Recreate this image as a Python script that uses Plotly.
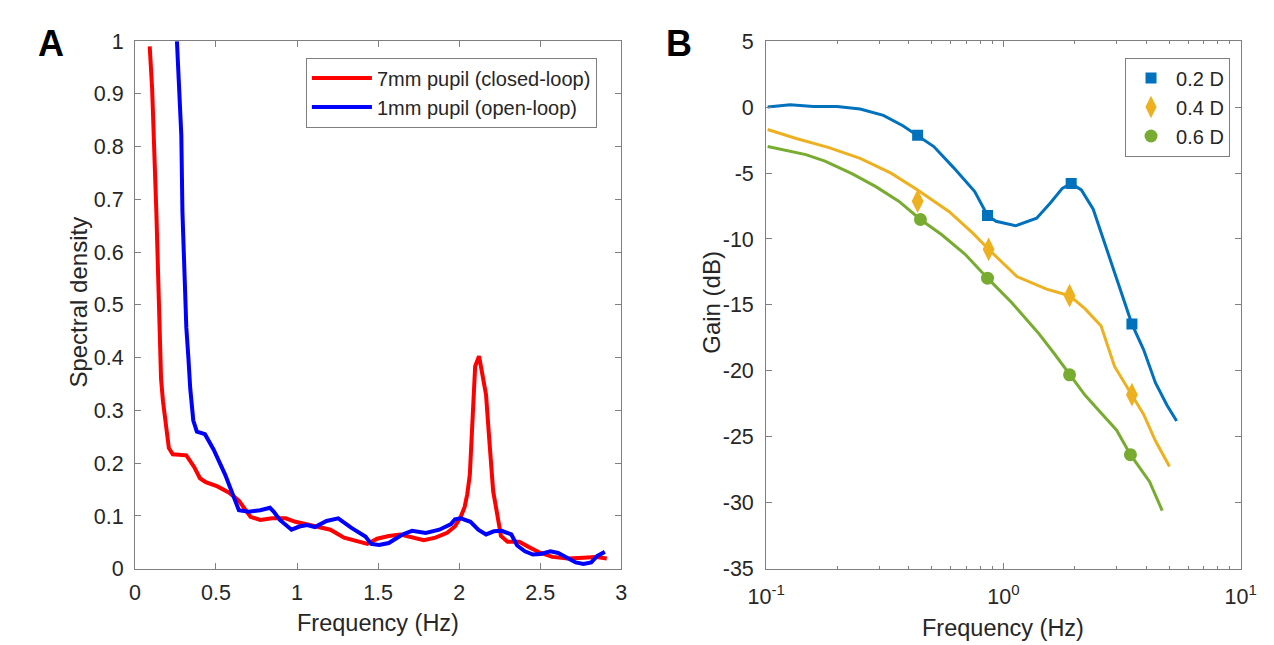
import plotly.graph_objects as go

# ---------------- Panel A data ----------------
red_freq = [0.091, 0.106, 0.132, 0.156, 0.161, 0.173, 0.209, 0.233, 0.317, 0.365, 0.401, 0.437,
            0.509, 0.581, 0.641, 0.713, 0.773, 0.846, 0.93, 0.99, 1.062, 1.134, 1.206, 1.29,
            1.362, 1.434, 1.494, 1.566, 1.638, 1.71, 1.782, 1.854, 1.926, 1.974, 2.01, 2.034,
            2.05, 2.066, 2.082, 2.099, 2.123, 2.142, 2.166, 2.186, 2.21, 2.234, 2.258, 2.299,
            2.371, 2.431, 2.503, 2.575, 2.671, 2.767, 2.839, 2.911]
red_val = [0.99, 0.91, 0.676, 0.457, 0.36, 0.3175, 0.229, 0.217, 0.215, 0.193, 0.1715, 0.164,
           0.156, 0.144, 0.129, 0.0985, 0.0925, 0.0955, 0.0955, 0.089, 0.0846, 0.080, 0.074, 0.059,
           0.053, 0.047, 0.057, 0.062, 0.065, 0.059, 0.054, 0.059, 0.068, 0.080, 0.0985, 0.117,
           0.141, 0.178, 0.263, 0.384, 0.403, 0.372, 0.33, 0.245, 0.147, 0.105, 0.062, 0.051,
           0.051, 0.041, 0.030, 0.0225, 0.0195, 0.021, 0.0225, 0.0195]

blue_freq = [0.259, 0.286, 0.293, 0.305, 0.317, 0.329, 0.341, 0.36, 0.382, 0.432, 0.485, 0.557,
             0.605, 0.641, 0.701, 0.773, 0.833, 0.857, 0.894, 0.966, 1.014, 1.062, 1.11, 1.182,
             1.254, 1.338, 1.422, 1.458, 1.506, 1.566, 1.65, 1.71, 1.794, 1.878, 1.95, 1.974,
             2.01, 2.07, 2.118, 2.166, 2.214, 2.262, 2.322, 2.358, 2.406, 2.455, 2.503, 2.563,
             2.611, 2.671, 2.719, 2.767, 2.815, 2.851, 2.899]
blue_val = [1.0, 0.822, 0.676, 0.555, 0.457, 0.403, 0.342, 0.281, 0.26, 0.255, 0.226, 0.178,
            0.138, 0.111, 0.108, 0.111, 0.1155, 0.108, 0.0925, 0.074, 0.080, 0.083, 0.079, 0.0906,
            0.0955, 0.077, 0.061, 0.047, 0.045, 0.0487, 0.065, 0.072, 0.068, 0.074, 0.0846, 0.0937,
            0.0955, 0.089, 0.074, 0.065, 0.071, 0.072, 0.065, 0.044, 0.033, 0.027, 0.028, 0.033,
            0.030, 0.0195, 0.012, 0.009, 0.012, 0.024, 0.032]

legend_a = ["7mm pupil (closed-loop)", "1mm pupil (open-loop)"]

# ---------------- Panel B data ----------------
d02_line_f = [0.1015, 0.1263, 0.158, 0.199, 0.249, 0.312, 0.377, 0.435, 0.509, 0.615, 0.757, 0.857,
              0.931, 1.125, 1.38, 1.58, 1.77, 1.93, 2.13, 2.39, 2.68, 2.99, 3.48, 3.90, 4.37, 4.89, 5.37]
d02_line_db = [0, 0.17, 0.05, 0.05, -0.15, -0.63, -1.41, -2.14, -2.99, -4.57, -6.4, -8.22,
               -8.66, -9.0, -8.42, -7.25, -6.16, -5.79, -6.28, -7.74, -10.4, -12.85, -16.45, -18.4,
               -20.9, -22.6, -23.8]
d04_line_f = [0.1015, 0.134, 0.184, 0.249, 0.336, 0.435, 0.591, 0.743, 0.866, 1.14, 1.52, 1.90,
              2.21, 2.58, 2.94, 3.48, 3.90, 4.37, 5.01]
d04_line_db = [-1.70, -2.38, -3.07, -3.89, -5.01, -6.28, -7.93, -9.56, -10.78, -12.85, -13.8, -14.3,
               -15.3, -16.6, -19.66, -21.8, -23.3, -25.3, -27.25]
d06_line_f = [0.1015, 0.12, 0.147, 0.177, 0.231, 0.29, 0.362, 0.447, 0.550, 0.688, 0.857, 1.08,
              1.40, 1.64, 1.90, 2.21, 2.58, 3.0, 3.43, 4.13, 4.67]
d06_line_db = [-2.99, -3.24, -3.6, -4.09, -5.06, -6.03, -7.13, -8.52, -9.68, -11.14, -12.97, -14.8,
               -17.1, -18.7, -20.3, -21.85, -23.2, -24.5, -26.35, -28.4, -30.6]

d02_mark_f = [0.435, 0.857, 1.93, 3.48]
d02_mark_db = [-2.14, -8.22, -5.79, -16.45]
d04_mark_f = [0.435, 0.866, 1.90, 3.48]
d04_mark_db = [-7.13, -10.78, -14.3, -21.8]
d06_mark_f = [0.447, 0.857, 1.90, 3.43]
d06_mark_db = [-8.52, -12.97, -20.3, -26.35]

legend_b = ["0.2 D", "0.4 D", "0.6 D"]

b_yticks = [5, 0, -5, -10, -15, -20, -25, -30, -35]
b_xticks = [0.1, 1, 10]
b_xticktext = ["10<sup>-1</sup>", "10<sup>0</sup>", "10<sup>1</sup>"]
b_minor = [0.2, 0.3, 0.4, 0.5, 0.6, 0.7, 0.8, 0.9, 2, 3, 4, 5, 6, 7, 8, 9]

# ---------------- figure ----------------
W, H = 1274, 645
FONT = "Liberation Sans, Arial, sans-serif"
TXT = "#262626"
AX = "#7f7f7f"
C02, C04, C06 = "#0072BD", "#EDB120", "#77AC30"

fig = go.Figure()

fig.add_trace(go.Scatter(x=red_freq, y=red_val, mode="lines", name=legend_a[0],
                         line=dict(color="#FF0000", width=4), xaxis="x", yaxis="y", legend="legend"))
fig.add_trace(go.Scatter(x=blue_freq, y=blue_val, mode="lines", name=legend_a[1],
                         line=dict(color="#0000FF", width=4), xaxis="x", yaxis="y", legend="legend"))

for f, d, c in [(d02_line_f, d02_line_db, C02), (d04_line_f, d04_line_db, C04), (d06_line_f, d06_line_db, C06)]:
    fig.add_trace(go.Scatter(x=f, y=d, mode="lines", line=dict(color=c, width=3),
                             showlegend=False, xaxis="x2", yaxis="y2", hoverinfo="skip"))

for f, d, c, sym, sz, nm in [(d02_mark_f, d02_mark_db, C02, "square", 11, legend_b[0]),
                             (d04_mark_f, d04_mark_db, C04, "diamond-tall", 17, legend_b[1]),
                             (d06_mark_f, d06_mark_db, C06, "circle", 13, legend_b[2])]:
    fig.add_trace(go.Scatter(x=f, y=d, mode="markers", name=nm,
                             marker=dict(color=c, symbol=sym, size=sz, line=dict(width=0)),
                             xaxis="x2", yaxis="y2", legend="legend2"))

def px_x(p):
    return p / W

def px_y(p):
    return 1 - p / H

yd = [px_y(571), px_y(23)]
common = dict(showline=True, linecolor=AX, linewidth=1, mirror="ticks", ticks="inside",
              ticklen=6, tickcolor=AX, showgrid=False, zeroline=False,
              tickfont=dict(family=FONT, size=21.5, color=TXT))

fig.update_layout(
    width=W, height=H, margin=dict(l=0, r=0, t=0, b=0),
    paper_bgcolor="white", plot_bgcolor="white",
    font=dict(family=FONT, color=TXT),
    xaxis=dict(domain=[px_x(111), px_x(611)], range=[0, 3], dtick=0.5, anchor="y",
               ticklabelstandoff=4, **common),
    yaxis=dict(domain=yd, range=[0, 1], dtick=0.1, anchor="x", ticklabelstandoff=6, **common),
    xaxis2=dict(domain=[px_x(760), px_x(1248)], type="log", range=[-1, 1], anchor="y2",
                tickmode="array", tickvals=b_xticks, ticktext=b_xticktext, ticklabelstandoff=8,
                minor=dict(tickmode="array", tickvals=b_minor, ticks="inside", ticklen=3,
                           tickcolor=AX, showgrid=False),
                **common),
    yaxis2=dict(domain=yd, range=[-35, 5], anchor="x2", tickmode="array", ticklabelstandoff=7,
                tickvals=b_yticks, ticktext=[str(v) for v in b_yticks], **common),
    legend=dict(x=px_x(586), xanchor="right", y=px_y(40), yanchor="top",
                bordercolor=AX, borderwidth=1, bgcolor="white", itemwidth=60,
                font=dict(family=FONT, size=20, color=TXT), tracegroupgap=0),
    legend2=dict(x=px_x(1237), xanchor="right", y=px_y(40), yanchor="top",
                 bordercolor=AX, borderwidth=1, bgcolor="white", itemwidth=40,
                 font=dict(family=FONT, size=20, color=TXT)),
    showlegend=True,
)

annots = [
    dict(text="<b>A</b>", x=px_x(25), y=px_y(25), font=dict(size=36, color="black")),
    dict(text="<b>B</b>", x=px_x(670), y=px_y(25), font=dict(size=36, color="black")),
    dict(text="Frequency (Hz)", x=px_x(361), y=px_y(627), font=dict(size=23.5, color=TXT)),
    dict(text="Frequency (Hz)", x=px_x(1004), y=px_y(633), font=dict(size=23.5, color=TXT)),
    dict(text="Spectral density", x=px_x(53), y=px_y(294), textangle=-90, font=dict(size=24, color=TXT)),
    dict(text="Gain (dB)", x=px_x(703), y=px_y(294), textangle=-90, font=dict(size=24, color=TXT)),
]
for a in annots:
    fig.add_annotation(xref="paper", yref="paper", showarrow=False, xanchor="center",
                       yanchor="middle", **a)

fig.write_html("out.html")
